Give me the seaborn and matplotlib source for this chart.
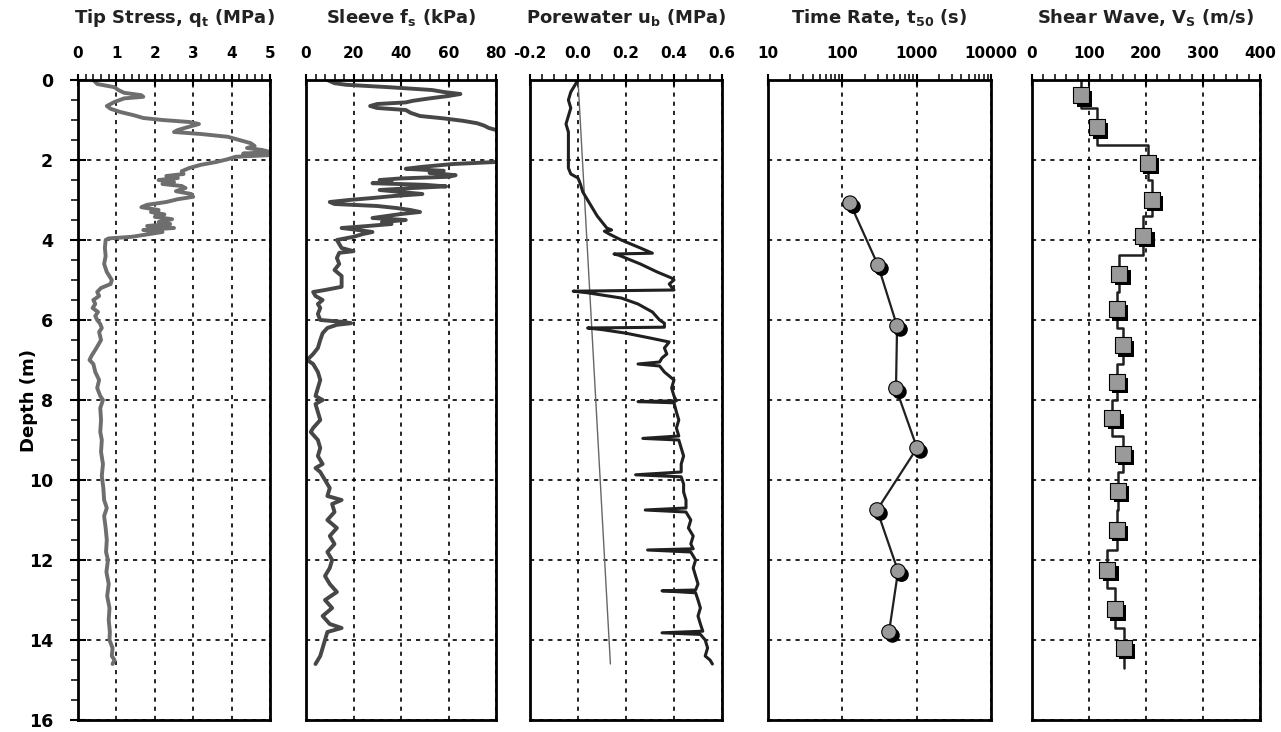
import numpy as np
import matplotlib
matplotlib.use("Agg")
import matplotlib.pyplot as plt
import matplotlib.patheffects as pe
from matplotlib.ticker import MultipleLocator, FormatStrFormatter, LogLocator, FixedLocator, FixedFormatter, NullFormatter
import seaborn as sns

# ---- data ----
qt_depth = [0.00, 0.10, 0.18, 0.25, 0.32, 0.38, 0.42, 0.46, 0.55, 0.65, 0.72, 0.80, 0.88, 0.95,
            1.00, 1.05, 1.10, 1.18, 1.25, 1.30, 1.35, 1.42, 1.50, 1.58, 1.65, 1.70, 1.75, 1.80,
            1.84, 1.88, 1.92, 1.98, 2.05, 2.12, 2.20, 2.28, 2.35, 2.40, 2.45, 2.50, 2.55, 2.60,
            2.65, 2.70, 2.78, 2.85, 2.92, 2.98, 3.05, 3.12, 3.18, 3.25, 3.30, 3.36, 3.42, 3.48,
            3.55, 3.60, 3.65, 3.70, 3.75, 3.80, 3.86, 3.92, 3.96, 4.00, 4.20, 4.40, 4.60, 4.80,
            5.00, 5.10, 5.20, 5.30, 5.40, 5.50, 5.60, 5.70, 5.80, 5.90, 6.00, 6.10, 6.20, 6.30,
            6.50, 6.70, 6.90, 7.00, 7.10, 7.30, 7.50, 7.70, 7.90, 8.00, 8.20, 8.50, 8.80, 9.00,
            9.30, 9.60, 9.90, 10.2, 10.5, 10.7, 10.9, 11.2, 11.5, 11.8, 12.0, 12.3, 12.6, 12.9,
            13.2, 13.5, 13.8, 14.0, 14.2, 14.4, 14.5, 14.6]
qt_mpa = [0.40, 0.50, 0.95, 1.05, 1.20, 1.65, 1.70, 1.20, 0.95, 0.75, 0.85, 1.10, 1.45, 1.70,
          2.20, 2.90, 3.15, 2.85, 2.60, 2.50, 3.20, 3.90, 4.20, 4.50, 4.60, 4.40, 4.80, 5.00,
          4.30, 4.95, 4.10, 3.90, 3.60, 3.20, 2.90, 2.70, 2.75, 2.30, 2.60, 2.10, 2.50, 2.20,
          2.70, 2.80, 2.55, 2.95, 3.00, 2.60, 2.30, 1.80, 1.65, 2.10, 1.90, 2.25, 2.00, 2.45,
          2.10, 2.40, 1.80, 2.50, 1.70, 2.20, 1.80, 1.40, 0.80, 0.72, 0.70, 0.72, 0.68, 0.75,
          0.88, 0.85, 0.60, 0.50, 0.55, 0.40, 0.45, 0.38, 0.52, 0.45, 0.50, 0.58, 0.62, 0.55,
          0.60, 0.48, 0.35, 0.30, 0.40, 0.45, 0.55, 0.50, 0.58, 0.65, 0.58, 0.60, 0.58, 0.62,
          0.60, 0.65, 0.62, 0.66, 0.68, 0.75, 0.68, 0.72, 0.75, 0.73, 0.78, 0.74, 0.80, 0.76,
          0.82, 0.80, 0.83, 0.82, 0.90, 0.88, 0.95, 0.90]

fs_depth = [0.00, 0.08, 0.12, 0.18, 0.25, 0.30, 0.35, 0.40, 0.46, 0.52, 0.56, 0.60, 0.65, 0.70,
            0.75, 0.82, 0.90, 0.96, 1.02, 1.08, 1.14, 1.20, 1.25, 1.30, 1.40, 1.60, 1.80, 2.00,
            2.05, 2.10, 2.17, 2.22, 2.27, 2.32, 2.38, 2.42, 2.46, 2.50, 2.55, 2.58, 2.62, 2.66,
            2.70, 2.75, 2.80, 2.85, 2.90, 2.95, 3.00, 3.05, 3.10, 3.15, 3.20, 3.25, 3.30, 3.35,
            3.40, 3.45, 3.50, 3.55, 3.60, 3.65, 3.70, 3.75, 3.80, 3.85, 3.92, 4.00, 4.10, 4.20,
            4.28, 4.32, 4.45, 4.60, 4.75, 4.90, 5.05, 5.17, 5.25, 5.30, 5.40, 5.50, 5.60, 5.70,
            5.85, 6.00, 6.05, 6.08, 6.12, 6.20, 6.33, 6.50, 6.70, 6.85, 7.00, 7.10, 7.30, 7.50,
            7.70, 7.90, 8.00, 8.10, 8.30, 8.50, 8.70, 8.80, 9.00, 9.20, 9.40, 9.60, 9.70, 9.80,
            10.0, 10.2, 10.4, 10.5, 10.6, 10.8, 11.0, 11.2, 11.4, 11.6, 11.8, 12.0, 12.2, 12.4,
            12.6, 12.8, 13.0, 13.2, 13.4, 13.6, 13.7, 13.8, 14.0, 14.2, 14.4, 14.6]
fs_kpa = [9, 12, 17, 35, 53, 58, 65, 60, 52, 45, 42, 30, 27, 30,
          42, 44, 48, 58, 66, 72, 75, 77, 80, 82, 88, 95, 92, 84,
          80, 62, 49, 42, 58, 52, 63, 60, 40, 31, 36, 28, 50, 59,
          45, 31, 40, 49, 37, 28, 18, 10, 12, 30, 38, 44, 48, 40,
          34, 28, 42, 32, 36, 26, 15, 22, 28, 24, 20, 13, 14, 15,
          20, 14, 13, 14, 12, 15, 15, 15, 8, 3, 4, 7, 5, 6,
          5, 6, 16, 19, 13, 9, 7, 6, 5, 3, 0.5, 3, 5, 6,
          5, 4, 7, 4, 5, 6, 3, 2, 5, 6, 5, 7, 4, 6,
          8, 10, 9, 15, 11, 12, 9, 13, 10, 12, 9, 11, 10, 8,
          10, 13, 8, 11, 7, 10, 15, 9, 8, 7, 6, 4]

u_depth = [0.00, 0.10, 0.30, 0.50, 0.70, 0.90, 1.10, 1.30, 1.50, 1.70, 2.00, 2.20, 2.35, 2.45,
           2.60, 2.80, 3.00, 3.20, 3.40, 3.55, 3.70, 3.75, 3.78, 3.85, 4.00, 4.20, 4.33, 4.35,
           4.38, 4.60, 4.80, 4.95, 5.00, 5.10, 5.25, 5.28, 5.32, 5.45, 5.60, 5.80, 6.00, 6.08,
           6.18, 6.20, 6.24, 6.33, 6.45, 6.55, 6.70, 6.85, 6.95, 7.05, 7.10, 7.15, 7.30, 7.50,
           7.70, 7.90, 8.02, 8.04, 8.07, 8.30, 8.50, 8.70, 8.90, 8.96, 9.00, 9.20, 9.40, 9.60,
           9.80, 9.87, 9.92, 10.10, 10.30, 10.50, 10.70, 10.75, 10.80, 11.00, 11.20, 11.40,
           11.60, 11.72, 11.75, 11.80, 12.00, 12.20, 12.40, 12.60, 12.75, 12.77, 12.82, 13.00,
           13.20, 13.40, 13.60, 13.78, 13.82, 13.86, 14.00, 14.20, 14.40, 14.50, 14.60]
u_mpa = [0.00, -0.01, -0.03, -0.04, -0.03, -0.04, -0.05, -0.04, -0.04, -0.04, -0.04, -0.04, -0.03, 0.00,
         0.01, 0.02, 0.04, 0.06, 0.08, 0.10, 0.12, 0.14, 0.11, 0.13, 0.18, 0.26, 0.31, 0.15,
         0.17, 0.26, 0.33, 0.39, 0.40, 0.38, 0.40, -0.02, 0.04, 0.18, 0.25, 0.31, 0.34, 0.36,
         0.36, 0.04, 0.10, 0.20, 0.30, 0.38, 0.36, 0.37, 0.35, 0.34, 0.25, 0.34, 0.36, 0.40,
         0.39, 0.40, 0.41, 0.25, 0.40, 0.41, 0.42, 0.41, 0.42, 0.27, 0.42, 0.43, 0.44, 0.43,
         0.43, 0.24, 0.43, 0.44, 0.44, 0.45, 0.45, 0.28, 0.45, 0.47, 0.46, 0.48,
         0.47, 0.48, 0.29, 0.47, 0.49, 0.48, 0.49, 0.50, 0.49, 0.35, 0.49, 0.50,
         0.51, 0.50, 0.51, 0.52, 0.35, 0.51, 0.53, 0.54, 0.53, 0.55, 0.56]
u0_depth = [0.0, 14.6]
u0_mpa = [0.0, 0.135]

t50_depth = [3.08, 4.63, 6.15, 7.71, 9.20, 10.75, 12.28, 13.80]
t50_s = [127, 302, 545, 527, 1012, 293, 562, 425]

vs_depth = [0.38, 1.18, 2.07, 3.00, 3.90, 4.85, 5.73, 6.63, 7.55, 8.45, 9.35, 10.27, 11.25, 12.25, 13.23, 14.20]
vs_ms = [86, 114, 203, 210, 195, 153, 149, 159, 149, 141, 159, 151, 149, 132, 145, 161]
vs_layer_tops = [0, 0.7, 1.63, 2.5, 3.4, 4.38, 5.3, 6.2, 7.1, 8.0, 8.9, 9.8, 10.75, 11.75, 12.7, 13.7]
vs_layer_bots = [0.7, 1.63, 2.5, 3.4, 4.38, 5.3, 6.2, 7.1, 8.0, 8.9, 9.8, 10.75, 11.75, 12.7, 13.7, 14.7]

sns.set_style("white")
plt.rcParams['font.family'] = ['DejaVu Sans']
plt.rcParams['mathtext.default'] = 'bf'
plt.rcParams['text.color'] = 'black'
plt.rcParams['axes.labelcolor'] = 'black'

fig = plt.figure(figsize=(12.81, 7.32), dpi=100)
H = 732.0
W = 1281.0
bottom = 1 - 720 / H
height = (720 - 80) / H
lefts = [78, 306, 530, 768, 1032]
rights = [270, 496, 722, 991, 1260]
axes = [fig.add_axes([l / W, bottom, (r - l) / W, height]) for l, r in zip(lefts, rights)]

shadow = [pe.SimplePatchShadow(offset=(2.5, -2.5), shadow_rgbFace='black', alpha=1.0), pe.Normal()]

# 1. tip stress
sns.lineplot(x=qt_mpa, y=qt_depth, sort=False, estimator=None, color='#6e6e6e', lw=2.8, ax=axes[0])
# 2. sleeve friction
sns.lineplot(x=fs_kpa, y=fs_depth, sort=False, estimator=None, color='#474747', lw=2.8, ax=axes[1])
# 3. porewater
sns.lineplot(x=u0_mpa, y=u0_depth, sort=False, estimator=None, color='#666666', lw=1.0, ax=axes[2])
sns.lineplot(x=u_mpa, y=u_depth, sort=False, estimator=None, color='#202020', lw=2.2, ax=axes[2])
# 4. t50
sns.lineplot(x=t50_s, y=t50_depth, sort=False, estimator=None, color='#202020', lw=1.6, ax=axes[3])
sns.scatterplot(x=t50_s, y=t50_depth, s=110, color='#9a9a9a', edgecolor='black', linewidth=0.8,
                ax=axes[3], zorder=5, path_effects=shadow)
# 5. shear wave, stepped layers
step_v = np.repeat(vs_ms, 2)
step_d = np.column_stack([vs_layer_tops, vs_layer_bots]).ravel()
sns.lineplot(x=step_v, y=step_d, sort=False, estimator=None, color='#202020', lw=1.8, ax=axes[4])
sns.scatterplot(x=vs_ms, y=vs_depth, s=130, marker='s', color='#9a9a9a', edgecolor='black', linewidth=0.8,
                ax=axes[4], zorder=5, path_effects=shadow)

titles = ['Tip Stress, q$_t$ (MPa)', 'Sleeve f$_s$ (kPa)', 'Porewater u$_b$ (MPa)',
          'Time Rate, t$_{50}$ (s)', 'Shear Wave, V$_S$ (m/s)']
xlims = [(0, 5), (0, 80), (-0.2, 0.6), (10, 10000), (0, 400)]
majors = [1, 20, 0.2, None, 100]
minors = [0.2, 4, 0.05, None, 20]

grid_kw = dict(color='black', linestyle=(0, (2.5, 3)), linewidth=1.2)
for i, ax in enumerate(axes):
    ax.set_ylim(16, 0)
    ax.set_xlim(*xlims[i])
    ax.set_xlabel('')
    ax.set_ylabel('')
    if i == 3:
        ax.set_xscale('log')
        ax.set_xlim(10, 10000)
        ax.xaxis.set_major_locator(FixedLocator([10, 100, 1000, 10000]))
        ax.xaxis.set_major_formatter(FixedFormatter(['10', '100', '1000', '10000']))
        ax.xaxis.set_minor_locator(LogLocator(base=10, subs=np.arange(2, 10)))
        ax.xaxis.set_minor_formatter(NullFormatter())
    else:
        ax.xaxis.set_major_locator(MultipleLocator(majors[i]))
        ax.xaxis.set_minor_locator(MultipleLocator(minors[i]))
        if i == 2:
            ax.xaxis.set_major_formatter(FormatStrFormatter('%.1f'))
    ax.xaxis.tick_top()
    ax.tick_params(axis='x', which='major', direction='inout', length=9, width=1.5, pad=9,
                   labelsize=11, colors='black')
    ax.tick_params(axis='x', which='minor', direction='out', length=4, width=1.3)
    for lab in ax.get_xticklabels():
        lab.set_fontweight('bold')
    ax.yaxis.set_major_locator(MultipleLocator(2))
    ax.yaxis.set_minor_locator(MultipleLocator(0.5))
    if i == 0:
        ax.tick_params(axis='y', which='major', direction='inout', length=12, width=1.5,
                       labelsize=12.5, left=True, pad=12, colors='black')
        ax.tick_params(axis='y', which='minor', direction='out', length=5, width=1.3, left=True)
        for lab in ax.get_yticklabels():
            lab.set_fontweight('bold')
        ax.set_ylabel('Depth (m)', fontsize=13, fontweight='bold')
        ax.yaxis.set_label_coords(-0.21, 0.5)
    else:
        ax.tick_params(axis='y', which='both', left=False, labelleft=False)
    ax.grid(True, which='major', axis='both', **grid_kw)
    for sp in ax.spines.values():
        sp.set_visible(True)
        sp.set_color('black')
        sp.set_linewidth(2.0)
    ax.set_title(titles[i], fontsize=13, fontweight='bold', pad=17, color='#222222')

fig.savefig('out.png', dpi=100, facecolor='white')
